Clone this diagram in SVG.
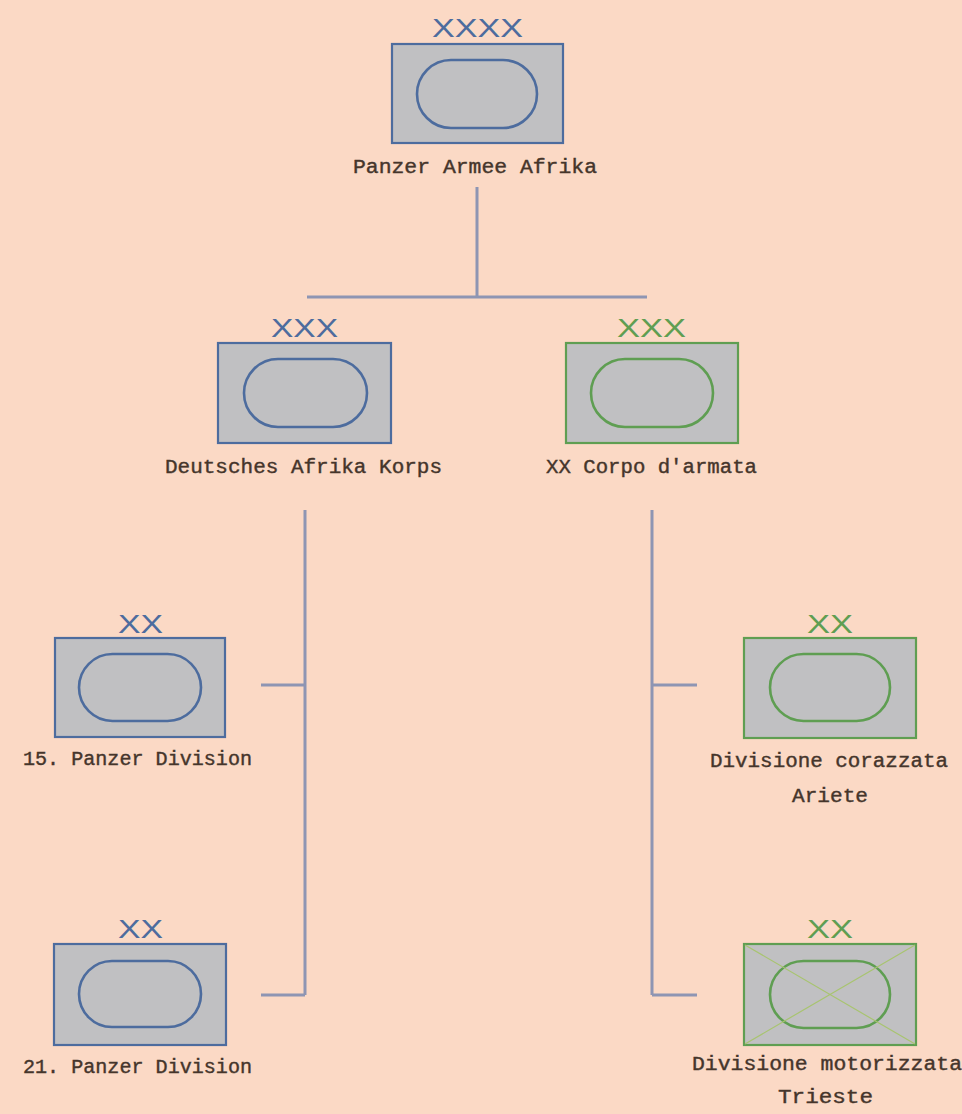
<svg xmlns="http://www.w3.org/2000/svg" width="962" height="1114" viewBox="0 0 962 1114">
<style>
.bg{fill:#fbd9c5}
.box{fill:#c0c0c2;stroke-width:2.2}
.pill{fill:none;stroke-width:2.6}
.blue{stroke:#4d6c9e}
.green{stroke:#5f9e52}
.mb{fill:#4d6c9e;font-family:"Liberation Sans",Arial,sans-serif;font-size:26px}
.mg{fill:#5f9e52;font-family:"Liberation Sans",Arial,sans-serif;font-size:26px}
.lbl{fill:#45352b;stroke:#45352b;stroke-width:0.4;font-family:"Liberation Mono","DejaVu Sans Mono",monospace;font-size:20px;text-anchor:middle}
.con{stroke:#8e95b3;stroke-width:3;fill:none}
.diag{stroke:#a8c470;stroke-width:1.2}
</style>
<rect class="bg" x="0" y="0" width="962" height="1114"/>
<g id="connectors">
<path class="con" d="M477 187V297M307 297H647"/>
<path class="con" d="M305 510V995M261 685H305M261 995H305"/>
<path class="con" d="M652 510V995M652 685H697M652 995H697"/>
</g>
<g id="panzer-armee-afrika">
<text class="mb" x="432" y="37" textLength="91" lengthAdjust="spacingAndGlyphs">XXXX</text>
<rect class="box blue" x="392" y="44" width="171" height="99"/>
<rect class="pill blue" x="417" y="60" width="120" height="68" rx="34"/>
<text class="lbl" x="475" y="173" textLength="244" lengthAdjust="spacingAndGlyphs">Panzer Armee Afrika</text>
</g>
<g id="deutsches-afrika-korps">
<text class="mb" x="271" y="337" textLength="67" lengthAdjust="spacingAndGlyphs">XXX</text>
<rect class="box blue" x="218" y="343" width="173" height="100"/>
<rect class="pill blue" x="244" y="359" width="123" height="68" rx="34"/>
<text class="lbl" x="303.5" y="473" textLength="277" lengthAdjust="spacingAndGlyphs">Deutsches Afrika Korps</text>
</g>
<g id="xx-corpo-armata">
<text class="mg" x="617" y="337" textLength="69" lengthAdjust="spacingAndGlyphs">XXX</text>
<rect class="box green" x="566" y="343" width="172" height="100"/>
<rect class="pill green" x="591" y="359" width="122" height="68" rx="34"/>
<text class="lbl" x="651.5" y="473" textLength="211" lengthAdjust="spacingAndGlyphs">XX Corpo d'armata</text>
</g>
<g id="panzer-division-15">
<text class="mb" x="118" y="633" textLength="45" lengthAdjust="spacingAndGlyphs">XX</text>
<rect class="box blue" x="55" y="638" width="170" height="99"/>
<rect class="pill blue" x="79" y="654" width="122" height="67" rx="33.5"/>
<text class="lbl" x="137.5" y="765" textLength="229" lengthAdjust="spacingAndGlyphs">15. Panzer Division</text>
</g>
<g id="panzer-division-21">
<text class="mb" x="118" y="938" textLength="45" lengthAdjust="spacingAndGlyphs">XX</text>
<rect class="box blue" x="54" y="944" width="172" height="101"/>
<rect class="pill blue" x="79" y="961" width="122" height="66" rx="33"/>
<text class="lbl" x="137.5" y="1073" textLength="229" lengthAdjust="spacingAndGlyphs">21. Panzer Division</text>
</g>
<g id="divisione-ariete">
<text class="mg" x="807" y="633" textLength="46" lengthAdjust="spacingAndGlyphs">XX</text>
<rect class="box green" x="744" y="638" width="172" height="100"/>
<rect class="pill green" x="770" y="654" width="120" height="67" rx="33.5"/>
<text class="lbl" x="829" y="767" textLength="238" lengthAdjust="spacingAndGlyphs">Divisione corazzata</text>
<text class="lbl" x="830" y="802" textLength="76" lengthAdjust="spacingAndGlyphs">Ariete</text>
</g>
<g id="divisione-trieste">
<text class="mg" x="807" y="938" textLength="46" lengthAdjust="spacingAndGlyphs">XX</text>
<rect class="box green" x="744" y="944" width="172" height="101"/>
<rect class="pill green" x="770" y="961" width="120" height="67" rx="33.5"/>
<path class="diag" d="M745 945L915 1044M915 945L745 1044"/>
<text class="lbl" x="827" y="1070" textLength="270" lengthAdjust="spacingAndGlyphs">Divisione motorizzata</text>
<text class="lbl" x="825.5" y="1103" textLength="95" lengthAdjust="spacingAndGlyphs">Trieste</text>
</g>
</svg>
